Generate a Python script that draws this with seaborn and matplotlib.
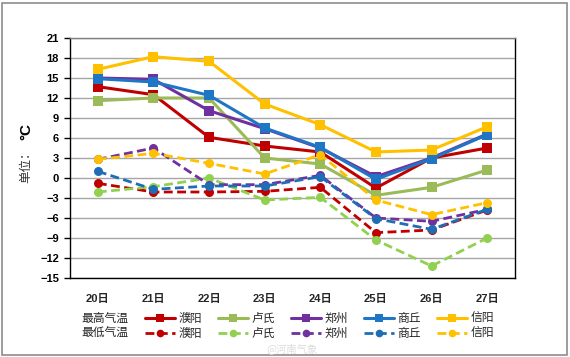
import numpy as np
import pandas as pd
import matplotlib.pyplot as plt
import seaborn as sns
from matplotlib.lines import Line2D
from matplotlib.patches import Rectangle

# data

days = ['20日', '21日', '22日', '23日', '24日', '25日', '26日', '27日']
cities = ['濮阳', '卢氏', '郑州', '商丘', '信阳']

high_puyang = [13.7, 12.5, 6.1, 4.8, 3.9, -1.5, 3.0, 4.5]
high_lushi = [11.6, 12.0, 12.0, 3.0, 2.1, -2.6, -1.4, 1.2]
high_zhengzhou = [15.0, 14.8, 10.1, 7.4, 4.5, 0.2, 3.0, 6.6]
high_shangqiu = [14.9, 14.4, 12.4, 7.5, 4.6, -0.2, 2.9, 6.5]
high_xinyang = [16.3, 18.2, 17.5, 11.1, 8.0, 3.9, 4.2, 7.7]

low_puyang = [-0.8, -2.1, -2.1, -2.0, -1.4, -8.2, -7.8, -4.8]
low_lushi = [-2.1, -1.3, 0.0, -3.3, -2.9, -9.3, -13.2, -9.0]
low_zhengzhou = [2.8, 4.5, -1.0, -1.0, 0.4, -6.0, -6.5, -4.7]
low_shangqiu = [1.0, -1.7, -1.2, -1.2, 0.2, -6.1, -7.7, -4.7]
low_xinyang = [2.8, 3.7, 2.2, 0.6, 3.5, -3.3, -5.5, -3.7]

highs = [high_puyang, high_lushi, high_zhengzhou, high_shangqiu, high_xinyang]
lows = [low_puyang, low_lushi, low_zhengzhou, low_shangqiu, low_xinyang]

high_colors = ['#C00000', '#9BBB59', '#7030A0', '#1F76C4', '#FFC000']
low_colors = ['#C00000', '#92D050', '#7030A0', '#1F6DB5', '#FFC000']

sns.set_style('white')
plt.rcParams['font.family'] = ['Liberation Sans', 'Noto Sans CJK SC', 'DejaVu Sans']

fig = plt.figure(figsize=(5.7, 3.57), dpi=100)
ax = fig.add_axes([70/570, 1-278/357, 445/570, 240/357])

dash = (0, (3.2, 1.6))
for i, city in enumerate(cities):
    df = pd.DataFrame({'day': days, 'temp': highs[i]})
    sns.lineplot(data=df, x='day', y='temp', ax=ax, sort=False, color=high_colors[i],
                 lw=2.2, marker='s', markersize=6.5, markeredgewidth=0, zorder=3)
for i, city in enumerate(cities):
    df = pd.DataFrame({'day': days, 'temp': lows[i]})
    sns.lineplot(data=df, x='day', y='temp', ax=ax, sort=False, color=low_colors[i],
                 lw=2.0, ls=dash, marker='o', markersize=6.5, markeredgewidth=0, zorder=3)

ax.set_xlim(-0.5, 7.5)
ax.set_ylim(-15, 21)
ax.set_yticks(np.arange(-15, 22, 3))
ax.yaxis.grid(True, color='#A6A6A6', lw=1.0)
ax.set_axisbelow(True)
ax.set_xlabel('')
ax.set_ylabel('')

for s in ['left', 'bottom', 'right']:
    ax.spines[s].set_color('black')
    ax.spines[s].set_linewidth(1.0)
ax.spines['top'].set_color('#7F7F7F')
ax.spines['top'].set_linewidth(1.0)

ax.tick_params(axis='y', left=True, direction='out', length=4, width=1, pad=4,
               labelsize=8, colors='black')
ax.tick_params(axis='x', bottom=False, pad=8, labelsize=8)
for t in ax.get_xticklabels() + ax.get_yticklabels():
    t.set_fontweight('bold')

# y label
fig.text(26/570, 1-164/357, '单位：', rotation=90, ha='center', va='center',
         fontsize=9, family=['Noto Sans CJK SC'], color='#333333')
fig.text(26/570, 1-131/357, '°C', rotation=90, ha='center', va='center',
         fontsize=11, fontweight='bold', color='black')

# legend: row labels in the first column
blank = Line2D([], [], linestyle='none')
handles = [blank, blank]
labels = ['最高气温', '最低气温']
for i, city in enumerate(cities):
    handles.append(Line2D([], [], color=high_colors[i], lw=2.2, marker='s', markersize=5.5,
                          markeredgewidth=0))
    handles.append(Line2D([], [], color=low_colors[i], lw=2.0, ls=dash, marker='o',
                          markersize=5.5, markeredgewidth=0))
    labels += [city, city]
fig.legend(handles, labels, ncol=6, loc='center left', bbox_to_anchor=(48/570, 1-326/357),
           frameon=False, handlelength=2.55, handletextpad=0.3, columnspacing=1.35,
           labelspacing=0.15, borderpad=0, borderaxespad=0,
           prop={'family': ['Noto Sans CJK SC'], 'size': 8.5})

# watermark
fig.text(292/570, 1-349/357, '@河南气象', ha='center', va='center', fontsize=7.5,
         family=['Noto Sans CJK SC'], color='#DDDDDD')

# outer frame
fig.patches.append(Rectangle((2/570, 2/357), 565/570, 352/357, transform=fig.transFigure,
                             fill=False, edgecolor='#8C8C8C', lw=1.2))

fig.savefig('out.png', dpi=100)
